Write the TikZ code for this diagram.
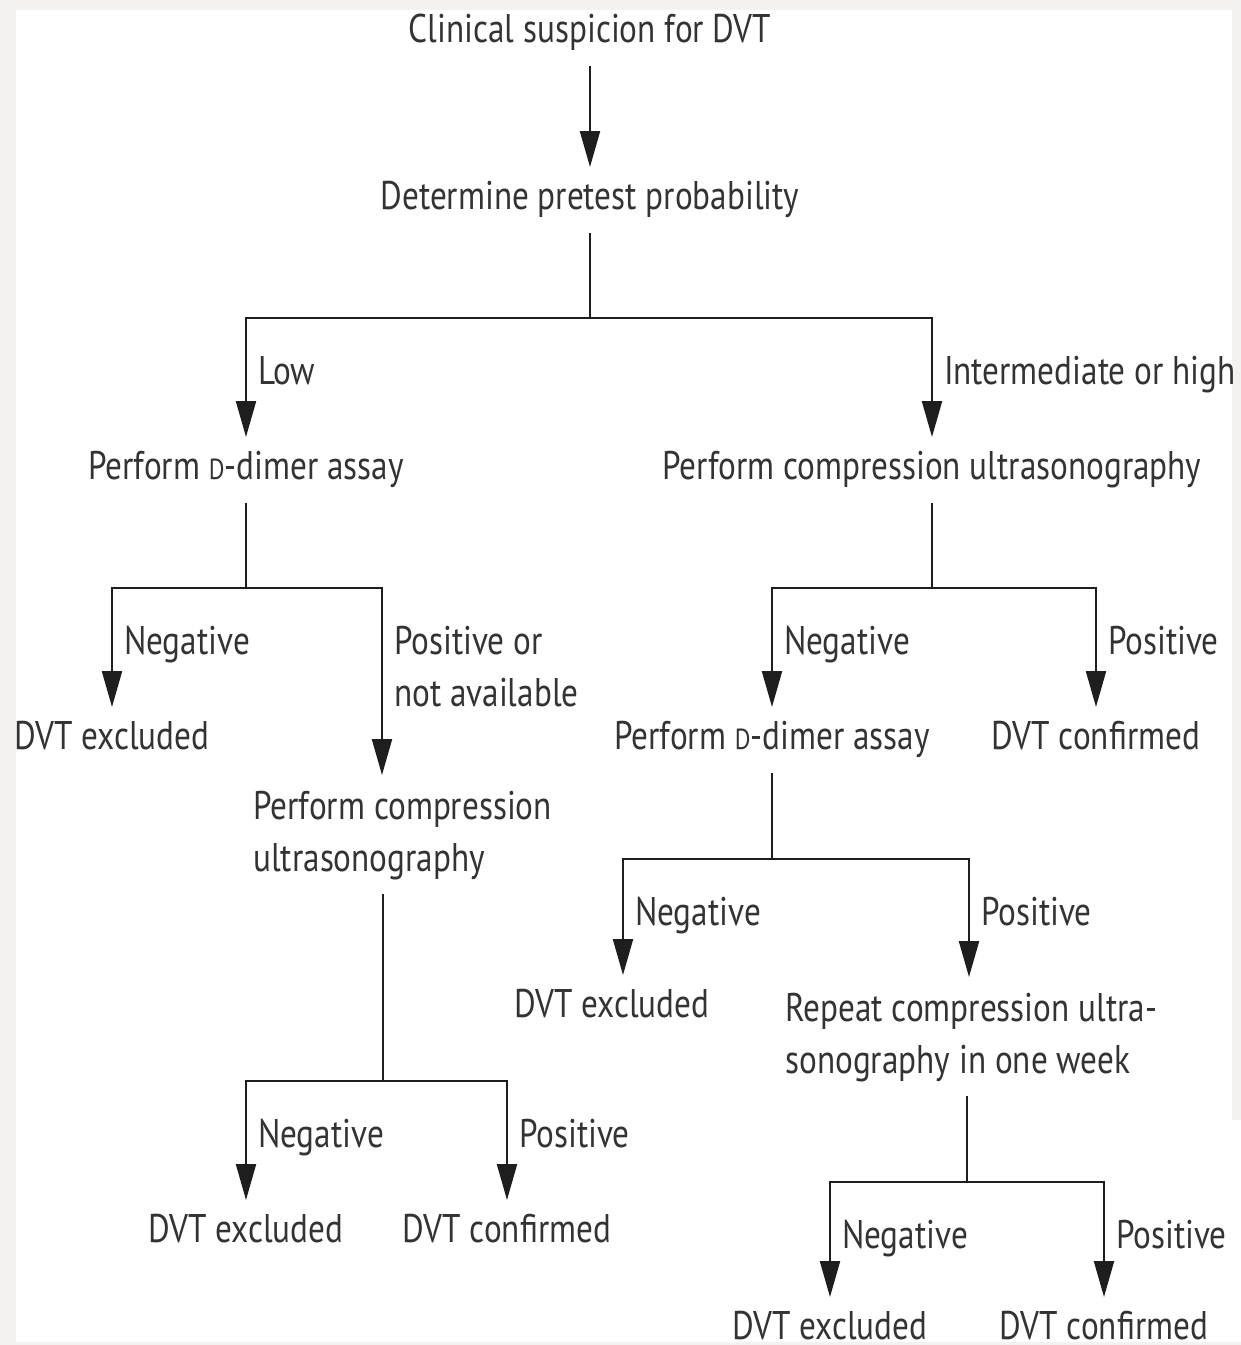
\documentclass[tikz,border=0pt]{standalone}
\usepackage{fontspec}
\setmainfont[FakeStretch=0.83]{PT Sans}
\usetikzlibrary{arrows.meta}
\definecolor{dvtbg}{HTML}{F3F2F0}
\definecolor{dvttext}{HTML}{333333}
\definecolor{dvtline}{HTML}{1E1E1E}
\newcommand{\smallD}{{\fontsize{14.5}{14.5}\selectfont D}}
\tikzset{
  stage/.style={inner sep=0pt, text height=21pt, text depth=11.5pt, text=dvttext,
                font=\fontsize{20}{26}\selectfont},
  twostage/.style={stage, align=left, text height=48pt, text depth=11pt},
  conn/.style={draw=dvtline, line width=1.1pt},
  flow/.style={conn, -{Triangle[length=18pt, width=10pt]}},
  lbl/.style={anchor=base west, xshift=5.5pt, yshift=-33.5pt, inner sep=0pt, text=dvttext,
              font=\fontsize{20}{26}\selectfont, align=left},
  lbltwo/.style={lbl, yshift=-26pt},
}
\begin{document}
\begin{tikzpicture}[x=0.5pt, y=-0.5pt]
\useasboundingbox (0,0) rectangle (1241,1345);
\fill[dvtbg] (0,0) rectangle (1241,1345);
\fill[white] (16,10) rectangle (1232,1342);
\fill[white] (1232,1120) rectangle (1241,1342);

\node[stage, anchor=north] (clin) at (590,0) {Clinical suspicion for DVT};
\node[stage, anchor=north] (pretest) at (590,167) {Determine pretest probability};
\draw[flow] (clin.south) -- (pretest.north);

\node[stage, anchor=north] (dimerA) at (246,437) {Perform \smallD-dimer assay};
\node[stage, anchor=north] (cusA) at (932,437) {Perform compression ultrasonography};
\draw[conn] (pretest.south) -- ++(0,85) coordinate (j1);
\draw[flow] (j1) -| node[lbl] {Low} (dimerA.north);
\draw[flow] (j1) -| node[lbl] {Intermediate or high} (cusA.north);

% low probability
\node[stage, anchor=north] (exclA) at (112,707) {DVT excluded};
\node[twostage, anchor=north west] (cusB) at (253,775) {Perform compression\\ultrasonography};
\draw[conn] (dimerA.south) -- ++(0,85) coordinate (j2);
\draw[flow] (j2) -| node[lbl] {Negative} (exclA.north);
\draw[flow] (j2) -| node[lbltwo] {Positive or\\not available} ([xshift=64.5pt]cusB.north west);

\node[stage, anchor=north] (exclC) at (246,1200) {DVT excluded};
\node[stage, anchor=north] (confB) at (507,1200) {DVT confirmed};
\draw[conn] ([xshift=65pt]cusB.south west) -- ++(0,187) coordinate (j5);
\draw[flow] (j5) -| node[lbl] {Negative} (exclC.north);
\draw[flow] (j5) -| node[lbl] {Positive} (confB.north);

% intermediate or high probability
\node[stage, anchor=north] (dimerB) at (772,707) {Perform \smallD-dimer assay};
\node[stage, anchor=north] (confA) at (1096,707) {DVT confirmed};
\draw[conn] (cusA.south) -- ++(0,85) coordinate (j3);
\draw[flow] (j3) -| node[lbl] {Negative} (dimerB.north);
\draw[flow] (j3) -| node[lbl] {Positive} (confA.north);

\node[stage, anchor=north] (exclB) at (612,975) {DVT excluded};
\node[twostage, anchor=north west] (rep) at (785,977) {Repeat compression ultra-\\sonography in one week};
\draw[conn] (dimerB.south) -- ++(0,86) coordinate (j4);
\draw[flow] (j4) -| node[lbl] {Negative} ([xshift=5.5pt]exclB.north);
\draw[flow] (j4) -| node[lbl] {Positive} ([xshift=92pt]rep.north west);

\node[stage, anchor=north] (exclD) at (830,1297) {DVT excluded};
\node[stage, anchor=north] (confC) at (1104,1297) {DVT confirmed};
\draw[conn] ([xshift=91pt]rep.south west) -- ++(0,86) coordinate (j6);
\draw[flow] (j6) -| node[lbl] {Negative} (exclD.north);
\draw[flow] (j6) -| node[lbl] {Positive} (confC.north);
\end{tikzpicture}
\end{document}
